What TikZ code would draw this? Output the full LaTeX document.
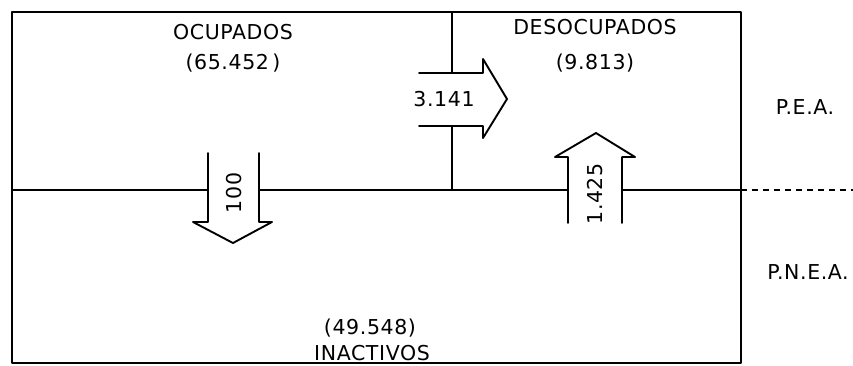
\documentclass[tikz,border=0pt]{standalone}
\usepackage{fontspec}
\newfontfamily\labfont[LetterSpace=3]{DejaVu Sans}
\begin{document}
\begin{tikzpicture}[x=1pt,y=-1pt,
  lbl/.style={font=\labfont\fontsize{20.5}{23}\selectfont, inner sep=0pt, anchor=center},
  edge/.style={line width=1.9pt, line cap=round, line join=round}]
\useasboundingbox (0,0) rectangle (853,365);
% named corner points
\coordinate (tl) at (12,12);
\coordinate (br) at (741,363);
\coordinate (ml) at (12,190);
\coordinate (mr) at (741,190);
\coordinate (de) at (853,190);
\coordinate (dt) at (452,12);
\coordinate (db) at (452,190);
% frame and dividers
\draw[edge] (tl) rectangle (br);
\draw[edge] (ml) -- (mr);
\draw[edge] (dt) -- (db);
\draw[line width=1.5pt, dash pattern=on 6pt off 5pt] (mr) -- (de);
% arrow 3.141 (right)
\fill[white] (419,73) -- (483,73) -- (483,59) -- (507,99) -- (483,138) -- (483,126) -- (419,126) -- cycle;
\draw[edge] (419,73) -- (483,73) -- (483,59) -- (507,99) -- (483,138) -- (483,126) -- (419,126);
% arrow 100 (down)
\fill[white] (208,153) -- (208,222) -- (193,222) -- (233,243) -- (272,222) -- (259,222) -- (259,153) -- cycle;
\draw[edge] (208,153) -- (208,222) -- (193,222) -- (233,243) -- (272,222) -- (259,222) -- (259,153);
% arrow 1.425 (up)
\fill[white] (568,223) -- (568,157) -- (555,157) -- (596,133) -- (635,157) -- (622,157) -- (622,223) -- cycle;
\draw[edge] (568,223) -- (568,157) -- (555,157) -- (596,133) -- (635,157) -- (622,157) -- (622,223);
% labels
\node[lbl] (ocu) at (233,32) {OCUPADOS};
\node[lbl] (ocun) at (233,63) {(65.452\,)};
\node[lbl] (des) at (595,27) {DESOCUPADOS};
\node[lbl] (desn) at (595,63) {(9.813)};
\node[lbl] (f1) at (444,99) {3.141};
\node[lbl, rotate=90] (f2) at (234,193) {100};
\node[lbl, rotate=90] (f3) at (595,194) {1.425};
\node[lbl] (pea) at (805,107) {P.E.A.};
\node[lbl] (pnea) at (808,272) {P.N.E.A.};
\node[lbl] (inan) at (370,328) {(49.548)};
\node[lbl] (ina) at (372,353) {INACTIVOS};
\end{tikzpicture}
\end{document}
